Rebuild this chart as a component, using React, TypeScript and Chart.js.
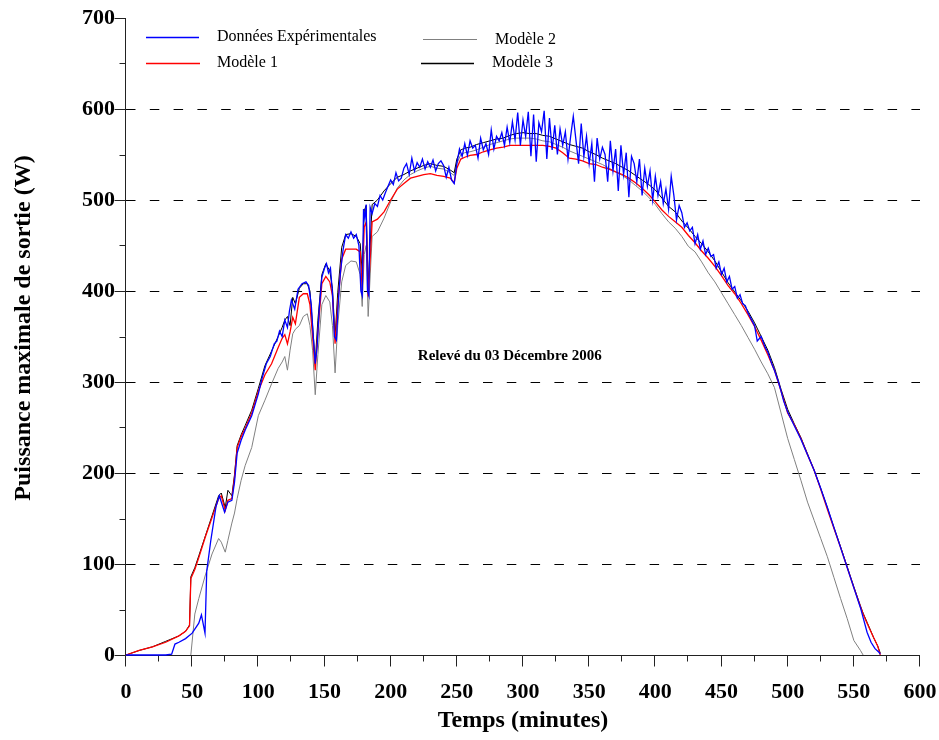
import React, { useEffect, useRef } from 'react';
import { Chart, registerables } from 'chart.js';

Chart.register(...registerables);

const FONT = '"Liberation Serif", "Times New Roman", Times, serif';

// Time axis (minutes) shared by the three models
const tModel = [
  0, 10, 20, 30, 40, 45, 48, 49, 52, 55,
  60, 65, 70, 72, 75, 77, 80, 82, 84, 87,
  90, 95, 100, 105, 110, 115, 118, 120, 122, 124,
  126, 128, 131, 134, 137, 139, 141, 143, 145, 148,
  151, 154, 156, 158, 160, 163, 166, 170, 174, 177,
  178.5, 180, 181.5, 183, 186, 190, 195, 200, 205, 210,
  215, 220, 225, 230, 235, 240, 245, 248, 250, 253,
  256, 260, 265, 270, 275, 280, 285, 290, 295, 300,
  305, 310, 315, 320, 325, 330, 335, 340, 345, 350,
  355, 360, 365, 370, 375, 380, 385, 390, 395, 400,
  405, 410, 415, 420, 425, 430, 435, 440, 445, 450,
  455, 460, 465, 470, 475, 480, 485, 490, 495, 500,
  505, 510, 515, 520, 525, 530, 535, 540, 545, 550,
  555, 557, 560, 565, 568, 570,
];

// Modèle 1 (red)
const model1 = [
  0, 5, 9, 14, 21, 26, 32, 84, 94, 107,
  130, 151, 172, 175, 159, 170, 172, 195, 228, 240,
  249, 266, 290, 308, 320, 338, 348, 352, 342, 355,
  371, 364, 393, 397, 397, 385, 350, 313, 355, 408,
  416, 410, 395, 342, 385, 435, 446, 446, 446, 443,
  401, 470, 476, 394, 476, 479, 487, 500, 512, 518,
  524, 526, 528, 529, 527, 526, 524, 519, 535, 545,
  547, 549, 550, 553, 555, 557, 558, 560, 560, 560,
  560, 560, 560, 559, 557, 552, 546, 545, 543, 540,
  539, 536, 534, 531, 528, 524, 519, 513, 506, 498,
  489, 482, 476, 470, 461, 453, 444, 436, 427, 417,
  406, 397, 386, 374, 361, 346, 330, 313, 290, 266,
  253, 238, 220, 203, 182, 160, 139, 118, 96, 74,
  53, 45, 35, 19, 10, 0,
];

// Modèle 2 (grey)
const model2 = [
  null, null, null, null, null, null, null, 0, 45, 62,
  88, 111, 128, 124, 113, 126, 145, 156, 172, 192,
  208, 228, 263, 280, 298, 315, 322, 328, 313, 335,
  353, 358, 362, 372, 375, 362, 335, 286, 330, 385,
  395, 388, 362, 310, 362, 410, 428, 433, 432, 418,
  383, 440, 450, 372, 460, 465, 480, 498, 513, 522,
  528, 532, 535, 537, 535, 534, 530, 527, 540, 550,
  552, 553, 555, 558, 561, 563, 565, 567, 568, 568,
  568, 567, 565, 564, 561, 558, 554, 551, 548, 545,
  542, 539, 535, 531, 527, 522, 516, 510, 503, 495,
  485, 476, 469, 460, 449, 443, 432, 420, 410, 398,
  386, 374, 362, 349, 336, 322, 309, 294, 266, 238,
  215, 192, 168, 148, 128, 108, 85, 62, 40, 16,
  5, 0, null, null, null, null,
];

// Modèle 3 (black)
const model3 = [
  0, 5, 9, 15, 21, 26, 33, 86, 96, 109,
  131, 153, 175, 178, 162, 181, 175, 198, 230, 242,
  252, 269, 293, 318, 334, 350, 360, 368, 372, 362,
  393, 386, 403, 408, 408, 400, 362, 322, 368, 418,
  430, 422, 403, 350, 398, 448, 462, 463, 460, 452,
  420, 488, 494, 405, 495, 500, 510, 518, 525, 528,
  532, 535, 538, 540, 538, 537, 533, 530, 545, 555,
  557, 558, 561, 563, 565, 567, 568, 571, 573, 574,
  573, 573, 571, 570, 567, 564, 561, 559, 557, 553,
  550, 546, 543, 540, 536, 532, 527, 522, 517, 511,
  502, 493, 487, 477, 469, 460, 452, 443, 433, 421,
  409, 399, 389, 378, 365, 350, 335, 316, 292, 270,
  254, 239, 221, 203, 183, 162, 140, 119, 97, 75,
  54, 46, 36, 19, 10, 2,
];

// Données expérimentales (blue): own time axis
const tExp = [
  0, 10, 20, 30, 34.5, 37, 40, 45, 50, 55,
  57, 59.7, 61, 64, 68, 70.5, 74.5, 77, 80, 82,
  84, 87, 90, 95, 100, 103, 106, 109, 112, 114,
  116, 118, 120, 122, 123.5, 125, 127.5, 130, 133, 136,
  138, 140, 141.5, 143, 144.5, 146, 148, 150, 151.5, 153,
  154.5, 156, 157.5, 159, 160.5, 162, 164, 166, 168, 170,
  172, 174, 176, 177.5, 178.5, 179.5, 180.5, 181.5, 182.5, 183.5,
  184.5, 186, 188,
  190, 192, 194, 196, 198, 200, 202, 204, 206, 208,
  210, 212, 214, 216, 218, 220, 222, 224, 226, 228,
  230, 232, 234, 236, 238, 240, 242, 244, 246, 248,
  250, 252, 254, 256, 258, 260, 262, 264, 266, 268,
  270, 272, 274, 276, 278, 280, 282, 284, 286, 288,
  290, 292, 294, 296, 298, 300, 302, 304, 306, 308,
  310, 312, 314, 316, 318, 320, 322, 324, 326, 328,
  330, 332, 334, 336, 338, 340, 342, 344, 346, 348,
  350, 352, 354, 356, 358, 360, 362, 364, 366, 368,
  370, 372, 374, 376, 378, 380, 382, 384, 386, 388,
  390, 392, 394, 396, 398, 400, 402, 404, 406, 408,
  410, 412, 414, 416, 418, 420, 422, 424, 426, 428,
  430, 432, 434, 436, 438, 440, 442, 444, 446, 448,
  450, 452, 454, 456, 458, 460, 462, 464, 466, 468,
  470, 475, 477, 480, 483, 485, 488, 490, 493, 495,
  497, 500, 505, 510, 515, 520, 525, 530, 535, 540,
  545, 550, 555, 560, 563, 566, 569, 570,
];

const expValues = [
  0, 0, 0, 0, 1, 12, 14, 18, 24, 35,
  44, 24, 92, 125, 163, 175, 157, 168, 170, 190,
  222, 236, 247, 263, 287, 305, 320, 328, 342, 345,
  356, 350, 368, 360, 378, 390, 380, 402, 408, 410,
  406, 385, 350, 320, 340, 380, 415, 425, 430, 420,
  425, 398, 350, 346, 390, 420, 445, 462, 458, 465,
  458, 462, 450, 400, 395, 490, 480, 495, 400, 395,
  492, 485, 496,
  493, 505, 500, 508, 515, 522, 517, 530, 521, 524,
  535, 540, 528, 546, 532, 541, 536, 545, 534, 542,
  536, 544, 532, 540, 543, 538, 525, 536, 522, 518,
  540, 556, 548, 562, 549, 565, 557, 560, 546, 568,
  555, 562, 550, 577, 556, 570, 565, 574, 560, 580,
  563, 586, 566, 596, 560, 588, 570, 597, 548, 594,
  542, 585, 575, 598, 545, 590, 555, 582, 550, 578,
  560, 575, 545, 570, 592, 566, 540, 584, 548, 570,
  540, 562, 520, 568, 545, 558, 550, 520, 565, 532,
  556, 510, 560, 528, 552, 503, 548, 540, 520, 545,
  505, 535, 515, 532, 500, 526, 505, 520, 496, 512,
  490, 526, 505, 478, 494, 486, 470, 475, 466, 470,
  452, 462, 446, 455, 440, 447, 438, 440, 425, 432,
  418, 425, 410, 416, 402, 405, 392, 396, 386, 384,
  376, 362, 345, 350, 338, 333, 320, 313, 300, 290,
  279, 267, 252, 237, 220, 203, 183, 162, 140, 118,
  96, 74, 52, 25, 14, 7, 3, 1,
];

const seriesLabels = ['Données Expérimentales', 'Modèle 1', 'Modèle 2', 'Modèle 3'];
const seriesColors = ['#0000ff', '#ff0000', '#808080', '#000000'];
const annotationText = 'Relevé du 03 Décembre 2006';
const xTitle = 'Temps (minutes)';
const yTitle = 'Puissance maximale de sortie (W)';

function toPoints(t: number[], v: (number | null)[]) {
  return t.map((x, i) => ({ x, y: v[i] }));
}

const decorPlugin = {
  id: 'decor',
  beforeDatasetsDraw(chart: any) {
    const { ctx, chartArea } = chart;
    const xs = chart.scales.x;
    const ys = chart.scales.y;
    ctx.save();
    // dashed horizontal grid
    ctx.strokeStyle = '#000';
    ctx.lineWidth = 1;
    ctx.setLineDash([9.5, 14.3]);
    ctx.lineDashOffset = 0;
    for (let v = 100; v <= 600; v += 100) {
      const py = Math.round(ys.getPixelForValue(v)) + 0.5;
      ctx.beginPath();
      ctx.moveTo(chartArea.left, py);
      ctx.lineTo(chartArea.right, py);
      ctx.stroke();
    }
    ctx.setLineDash([]);
    // axes lines
    ctx.strokeStyle = '#222';
    ctx.lineWidth = 1;
    const ax = Math.round(chartArea.left) - 0.5;
    const ay = Math.round(chartArea.bottom) + 0.5;
    ctx.beginPath();
    ctx.moveTo(ax, Math.round(chartArea.top));
    ctx.lineTo(ax, ay);
    ctx.lineTo(Math.round(chartArea.right), ay);
    ctx.stroke();
    // y ticks
    for (let v = 0; v <= 700; v += 50) {
      const py = Math.round(ys.getPixelForValue(v)) + 0.5;
      const len = v % 100 === 0 ? 11 : 6;
      ctx.beginPath();
      ctx.moveTo(ax, py);
      ctx.lineTo(ax - len, py);
      ctx.stroke();
    }
    // x ticks
    for (let v = 0; v <= 600; v += 25) {
      const px = Math.round(xs.getPixelForValue(v)) - 0.5;
      const len = v % 50 === 0 ? 11 : 6;
      ctx.beginPath();
      ctx.moveTo(px, ay);
      ctx.lineTo(px, ay + len);
      ctx.stroke();
    }
    ctx.restore();
  },
  afterDraw(chart: any) {
    const { ctx, chartArea } = chart;
    const xs = chart.scales.x;
    const ys = chart.scales.y;
    ctx.save();
    // legend
    const items = [
      { i: 0, x1: 146, x2: 199, ly: 37, tx: 217, ty: 37 },
      { i: 1, x1: 146, x2: 200, ly: 63, tx: 217, ty: 63 },
      { i: 2, x1: 423, x2: 477, ly: 39, tx: 495, ty: 40 },
      { i: 3, x1: 421, x2: 474, ly: 63, tx: 492, ty: 63 },
    ];
    ctx.font = `16px ${FONT}`;
    ctx.textBaseline = 'middle';
    ctx.textAlign = 'left';
    for (const it of items) {
      ctx.strokeStyle = seriesColors[it.i];
      ctx.lineWidth = it.i === 2 ? 1 : 1.3;
      ctx.beginPath();
      ctx.moveTo(it.x1, it.ly + 0.5);
      ctx.lineTo(it.x2, it.ly + 0.5);
      ctx.stroke();
      ctx.fillStyle = '#000';
      ctx.fillText(seriesLabels[it.i], it.tx, it.ty);
    }
    // annotation
    ctx.font = `bold 15px ${FONT}`;
    ctx.textAlign = 'center';
    ctx.fillText(annotationText, xs.getPixelForValue(290), ys.getPixelForValue(328));
    // axis titles
    ctx.font = `bold 24px ${FONT}`;
    ctx.fillText(xTitle, (chartArea.left + chartArea.right) / 2, 721);
    ctx.translate(24, 328);
    ctx.rotate(-Math.PI / 2);
    ctx.fillText(yTitle, 0, 0);
    ctx.restore();
  },
};

function zeroPad(s: any) {
  s.paddingLeft = 0;
  s.paddingRight = 0;
  s.paddingTop = 0;
  s.paddingBottom = 0;
}

export default function App() {
  const ref = useRef<HTMLCanvasElement | null>(null);
  useEffect(() => {
    document.body.style.margin = '0';
    const canvas = ref.current;
    if (!canvas) return;
    const chart = new Chart(canvas, {
      type: 'line',
      data: {
        datasets: [
          {
            label: seriesLabels[0],
            data: toPoints(tExp, expValues),
            borderColor: seriesColors[0],
            borderWidth: 1.3,
            pointRadius: 0,
            order: 0,
            clip: false as any,
          },
          {
            label: seriesLabels[1],
            data: toPoints(tModel, model1),
            borderColor: seriesColors[1],
            borderWidth: 1.3,
            pointRadius: 0,
            order: 1,
            clip: false as any,
          },
          {
            label: seriesLabels[2],
            data: toPoints(tModel, model2),
            borderColor: seriesColors[2],
            borderWidth: 1,
            pointRadius: 0,
            order: 3,
            clip: false as any,
          },
          {
            label: seriesLabels[3],
            data: toPoints(tModel, model3),
            borderColor: seriesColors[3],
            borderWidth: 1,
            pointRadius: 0,
            order: 2,
            clip: false as any,
          },
        ] as any,
      },
      options: {
        responsive: false,
        animation: false,
        devicePixelRatio: 1,
        spanGaps: false,
        layout: { padding: { top: 18, right: 19, left: 0, bottom: 0 } },
        plugins: {
          legend: { display: false },
          tooltip: { enabled: false },
          title: { display: false },
        },
        elements: { line: { tension: 0 } },
        scales: {
          x: {
            type: 'linear',
            min: 0,
            max: 600,
            grid: { display: false, drawTicks: false },
            border: { display: false },
            ticks: {
              stepSize: 50,
              padding: 24,
              color: '#000',
              font: { family: FONT, size: 22, weight: 'bold' },
              maxRotation: 0,
            },
            afterFit: (s: any) => {
              s.height = 85;
              zeroPad(s);
            },
          },
          y: {
            type: 'linear',
            min: 0,
            max: 700,
            grid: { display: false, drawTicks: false },
            border: { display: false },
            ticks: {
              stepSize: 100,
              padding: 11,
              color: '#000',
              font: { family: FONT, size: 22, weight: 'bold' },
            },
            afterFit: (s: any) => {
              s.width = 126;
              zeroPad(s);
            },
          },
        },
      } as any,
      plugins: [decorPlugin],
    });
    return () => chart.destroy();
  }, []);
  return (
    <div style={{ position: 'absolute', left: 0, top: 0, width: 939, height: 740 }}>
      <canvas ref={ref} width={939} height={740} style={{ display: 'block' }} />
    </div>
  );
}
